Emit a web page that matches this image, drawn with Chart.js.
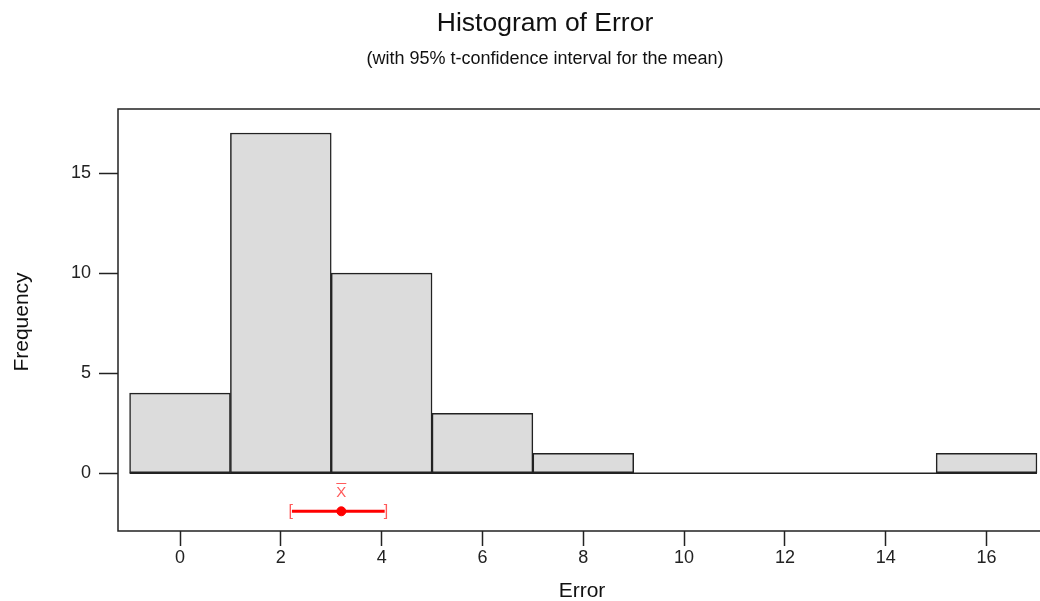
<!DOCTYPE html>
<html>
<head>
<meta charset="utf-8">
<script src="https://cdn.jsdelivr.net/npm/chart.js@4"></script>
<style>
  html, body { margin: 0; padding: 0; background: #fff; overflow: hidden; }
  #wrap { width: 1040px; height: 601px; }
</style>
</head>
<body>
<div id="wrap"><canvas id="myChart"></canvas></div>
<script>
// histogram bins (centre of each bin) and counts
const binCenters = [0, 2, 4, 6, 8, 10, 12, 14, 16];
const frequencies = [4, 17, 10, 3, 1, 0, 0, 0, 1];
const binWidth = 2;

const xTicks = [0, 2, 4, 6, 8, 10, 12, 14, 16];
const yTicks = [0, 5, 10, 15];

// 95% t-confidence interval for the mean
const ciLow = 2.22;
const ciMean = 3.2;
const ciHigh = 4.06;
const ciLevel = -1.9;

const FONT = "'Liberation Sans', Arial, sans-serif";

const frameAndText = {
  id: "frameAndText",
  afterDraw(chart) {
    const { ctx, chartArea: a, scales } = chart;
    const x = scales.x, y = scales.y;
    ctx.save();

    // plot frame (right side runs off the picture)
    ctx.strokeStyle = "#222";
    ctx.lineWidth = 1.5;
    ctx.beginPath();
    ctx.moveTo(a.right + 5, a.top);
    ctx.lineTo(a.left, a.top);
    ctx.lineTo(a.left, a.bottom);
    ctx.lineTo(a.right + 5, a.bottom);
    ctx.stroke();

    // titles
    ctx.fillStyle = "#111";
    ctx.textAlign = "center";
    ctx.textBaseline = "alphabetic";
    ctx.font = "26.5px " + FONT;
    ctx.fillText("Histogram of Error", 545, 31);
    ctx.font = "18px " + FONT;
    ctx.fillText("(with 95% t-confidence interval for the mean)", 545, 64);

    // axis titles
    ctx.font = "21px " + FONT;
    ctx.fillText("Error", 582, 597);
    ctx.save();
    ctx.translate(28, 322);
    ctx.rotate(-Math.PI / 2);
    ctx.fillText("Frequency", 0, 0);
    ctx.restore();

    // CI brackets and x-bar label
    const cy = y.getPixelForValue(ciLevel);
    ctx.fillStyle = "#ff5a5a";
    ctx.font = "16px " + FONT;
    ctx.textBaseline = "middle";
    ctx.textAlign = "right";
    ctx.fillText("[", x.getPixelForValue(ciLow) + 1, cy);
    ctx.textAlign = "left";
    ctx.fillText("]", x.getPixelForValue(ciHigh) - 1, cy);

    const mx = x.getPixelForValue(ciMean);
    ctx.textAlign = "center";
    ctx.textBaseline = "alphabetic";
    ctx.font = "15px " + FONT;
    ctx.fillText("X", mx, 497);
    ctx.strokeStyle = "#ff5a5a";
    ctx.lineWidth = 1;
    ctx.beginPath();
    ctx.moveTo(mx - 5, 483.5);
    ctx.lineTo(mx + 5, 483.5);
    ctx.stroke();

    ctx.restore();
  },
};

function renderChart() {
  const ctx = document.getElementById("myChart");
  const firstEdge = binCenters[0] - binWidth / 2;
  const lastEdge = binCenters[binCenters.length - 1] + binWidth / 2;

  new Chart(ctx, {
    type: "bar",
    data: {
      datasets: [
        {
          type: "bar",
          data: binCenters.map((c, i) => ({ x: c, y: frequencies[i] })),
          backgroundColor: "#dcdcdc",
          borderColor: "#222",
          borderWidth: 1.5,
          borderSkipped: false,
          barPercentage: 1,
          categoryPercentage: 1,
          grouped: false,
        },
        {
          // baseline under the empty bins
          type: "line",
          data: [{ x: firstEdge, y: 0 }, { x: lastEdge, y: 0 }],
          borderColor: "#222",
          borderWidth: 1.5,
          pointRadius: 0,
        },
        {
          type: "line",
          data: [{ x: ciLow, y: ciLevel }, { x: ciHigh, y: ciLevel }],
          borderColor: "#ff0000",
          borderWidth: 3,
          pointRadius: 0,
        },
        {
          type: "scatter",
          data: [{ x: ciMean, y: ciLevel }],
          backgroundColor: "#ff0000",
          borderColor: "#ff0000",
          pointRadius: 4.5,
        },
      ],
    },
    options: {
      responsive: true,
      maintainAspectRatio: false,
      animation: false,
      layout: { autoPadding: false, padding: { top: 109, left: 0, right: 0, bottom: 0 } },
      plugins: { legend: { display: false }, tooltip: { enabled: false } },
      scales: {
        x: {
          type: "linear",
          offset: false,
          min: -1.23,
          max: 17.06,
          afterFit: (s) => {
            s.height = 70;
            s.paddingLeft = 0;
            s.paddingRight = 0;
          },
          afterBuildTicks: (s) => { s.ticks = xTicks.map((v) => ({ value: v })); },
          border: { display: false },
          grid: { offset: false, drawOnChartArea: false, drawTicks: true, tickLength: 15, tickColor: "#222", tickWidth: 1.5 },
          ticks: { color: "#222", padding: 1, font: { family: FONT, size: 18 } },
        },
        y: {
          type: "linear",
          min: -2.885,
          max: 18.2,
          afterFit: (s) => { s.width = 118; },
          afterBuildTicks: (s) => { s.ticks = yTicks.map((v) => ({ value: v })); },
          border: { display: false },
          grid: { drawOnChartArea: false, drawTicks: true, tickLength: 19, tickColor: "#222", tickWidth: 1.5 },
          ticks: { color: "#222", padding: 8, font: { family: FONT, size: 18 } },
        },
      },
    },
    plugins: [frameAndText],
  });
}

window.onload = renderChart;
</script>
</body>
</html>
